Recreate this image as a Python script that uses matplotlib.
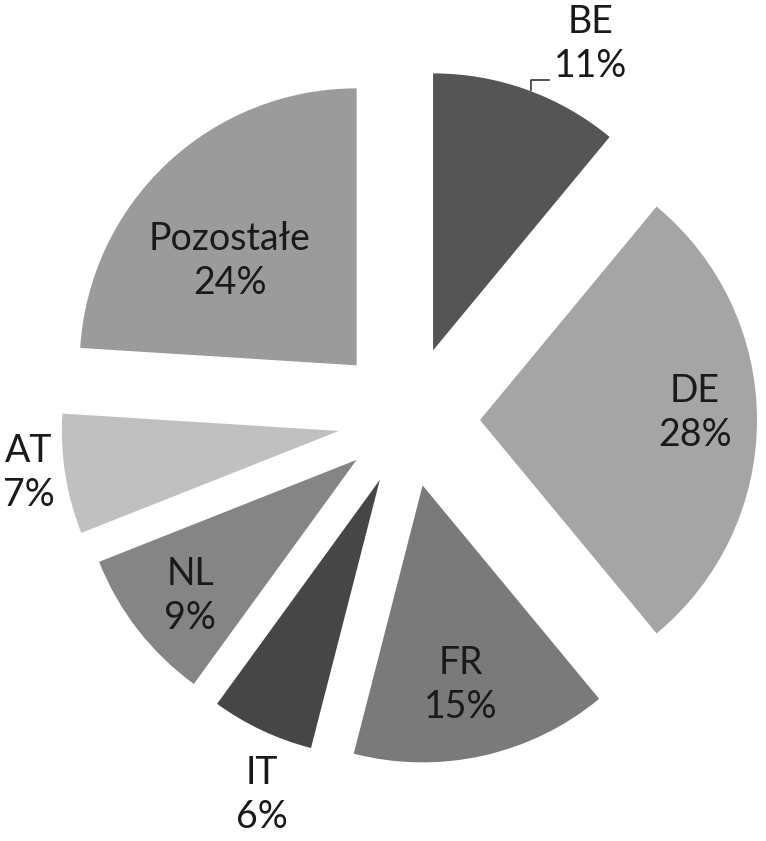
import matplotlib
matplotlib.use("Agg")
import matplotlib.pyplot as plt

countries = ["BE", "DE", "FR", "IT", "NL", "AT", "Pozostałe"]
shares = [11, 28, 15, 6, 9, 7, 24]
colors = ["#555555", "#a5a5a5", "#7a7a7a", "#464646", "#858585", "#c0c0c0", "#9b9b9b"]

W, H = 766, 841
R = 277
# offset of each slice from the centre, in pixels
explode = [74, 72, 67, 66, 65, 70, 75]
# label centres in pixel coordinates (from the top-left corner)
label_pos = [(591, 44), (695, 413), (461, 685), (262, 795), (190, 596), (29, 473), (230, 261)]

plt.rcParams["font.family"] = ["Lato", "DejaVu Sans"]

fig = plt.figure(figsize=(W / 100, H / 100), dpi=100)
ax = fig.add_axes([0, 0, 1, 1])

ax.pie(shares, colors=colors, explode=explode, startangle=90, counterclock=False,
       radius=R, center=(408, H - 420), frame=True,
       wedgeprops={"linewidth": 0})
ax.set_xlim(0, W)
ax.set_ylim(0, H)
ax.set_aspect("equal")
ax.axis("off")

for name, val, (px, py) in zip(countries, shares, label_pos):
    ax.text(px, H - py, f"{name}\n{val}%", ha="center", va="center",
            fontsize=27, color="#1a1a1a", linespacing=1.3)

# leader line for BE
ax.plot([531, 531, 549], [H - 90, H - 80, H - 80], color="#333333", lw=1.2)

fig.savefig("out.png", dpi=100, facecolor="white")
